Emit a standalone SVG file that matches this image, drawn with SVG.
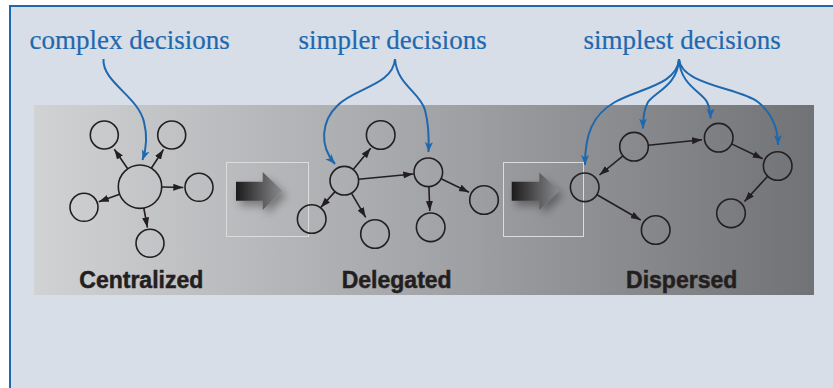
<svg xmlns="http://www.w3.org/2000/svg" width="833" height="388" viewBox="0 0 833 388">
<style>
.node{fill:none;stroke:#231f20;stroke-width:1.6}
.edge{fill:none;stroke:#231f20;stroke-width:1.6;marker-end:url(#ah)}
.blue{fill:none;stroke:#1f68ae;stroke-width:2;marker-end:url(#bh)}
.lbl{font-family:"Liberation Sans",Arial,sans-serif;font-weight:bold;font-size:23px;fill:#231f20;stroke:#231f20;stroke-width:0.5;text-anchor:middle}
.cap{font-family:"Liberation Serif","Times New Roman",serif;font-size:27px;fill:#1f68ae;stroke:#1f68ae;stroke-width:0.2}
.box{fill:none;stroke:#dcdcdc;stroke-width:1}
.bigarrow{fill:url(#ag);filter:url(#sh)}
</style>
<defs>
<linearGradient id="band" x1="0" y1="0" x2="1" y2="0">
<stop offset="0" stop-color="#d1d2d4"/>
<stop offset="0.5" stop-color="#a4a5a8"/>
<stop offset="1" stop-color="#717276"/>
</linearGradient>
<linearGradient id="ag" x1="0" y1="0" x2="1" y2="0">
<stop offset="0" stop-color="#1c1b1c"/>
<stop offset="1" stop-color="#8a8b8e"/>
</linearGradient>
<filter id="sh" x="-30%" y="-30%" width="170%" height="180%">
<feDropShadow dx="4" dy="5" stdDeviation="4" flood-color="#000" flood-opacity="0.35"/>
</filter>
<marker id="ah" markerUnits="userSpaceOnUse" markerWidth="11" markerHeight="8" refX="10" refY="3.5" orient="auto">
<path d="M0,0 L10,3.5 L0,7 z" fill="#231f20"/>
</marker>
<marker id="bh" markerUnits="userSpaceOnUse" markerWidth="11" markerHeight="9" refX="10" refY="4" orient="auto">
<path d="M0,0 L10,4 L0,8 L2.5,4 z" fill="#1f68ae"/>
</marker>
</defs>
<rect x="0" y="0" width="833" height="388" fill="#ffffff"/>
<rect x="10" y="6" width="840" height="400" fill="#d7dee8" stroke="#1d68b0" stroke-width="2"/>
<rect x="34" y="105" width="780" height="190" fill="url(#band)"/>

<g id="transition1">
<rect class="box" x="226.5" y="162.5" width="82" height="74"/>
<path class="bigarrow" d="M236,181.7 L262.7,181.7 L262.7,172 L282.3,190.7 L262.7,210 L262.7,200.7 L236,200.7 z"/>
</g>
<g id="transition2">
<rect class="box" x="503.5" y="162.5" width="80" height="74"/>
<path class="bigarrow" d="M511.7,181.7 L539.3,181.7 L539.3,172.5 L559,190.7 L539.3,210 L539.3,200.7 L511.7,200.7 z"/>
</g>

<g id="centralized">
<circle class="node" cx="140" cy="186.7" r="21.7"/>
<circle class="node" cx="104.3" cy="135" r="14"/>
<circle class="node" cx="171.7" cy="135" r="14"/>
<circle class="node" cx="199" cy="187.3" r="14"/>
<circle class="node" cx="84" cy="207.3" r="14"/>
<circle class="node" cx="150" cy="243.3" r="14"/>
<text class="lbl" x="141.3" y="287.5">Centralized</text>
</g>
<g id="delegated">
<circle class="node" cx="344.3" cy="180.7" r="14.3"/>
<circle class="node" cx="380.7" cy="135" r="14.3"/>
<circle class="node" cx="311.7" cy="219" r="14.3"/>
<circle class="node" cx="375" cy="234" r="14.3"/>
<circle class="node" cx="428.3" cy="172.3" r="14.3"/>
<circle class="node" cx="430.7" cy="227.3" r="14.3"/>
<circle class="node" cx="484" cy="200" r="14.3"/>
<text class="lbl" x="396.7" y="287.5">Delegated</text>
</g>
<g id="dispersed">
<circle class="node" cx="584.7" cy="187.3" r="14.3"/>
<circle class="node" cx="634" cy="146.7" r="14.3"/>
<circle class="node" cx="718.7" cy="137.7" r="14.3"/>
<circle class="node" cx="777.7" cy="166" r="14.3"/>
<circle class="node" cx="731" cy="213.3" r="14.3"/>
<circle class="node" cx="655.7" cy="230" r="14.3"/>
<text class="lbl" x="681.7" y="287.5">Dispersed</text>
</g>

<g id="captions">
<text class="cap" x="29.5" y="48.5">complex decisions</text>
<text class="cap" x="298.5" y="48.5">simpler decisions</text>
<text class="cap" x="583.5" y="48.5">simplest decisions</text>
</g>

<g id="connectors">
<path class="edge" d="M127.7,168.8 L114.3,149.3"/>
<path class="edge" d="M151.3,168.2 L163.5,149.5"/>
<path class="edge" d="M161.7,187 L183.3,187.5"/>
<path class="edge" d="M119.6,194.2 L98.8,201.8"/>
<path class="edge" d="M143.8,208 L147.4,227.5"/>

<path class="edge" d="M353.2,169.5 L370.7,148.3"/>
<path class="edge" d="M335,191.6 L320.7,207.5"/>
<path class="edge" d="M351.4,193.1 L365.7,217.3"/>
<path class="edge" d="M358.5,179.3 L413.3,174"/>
<path class="edge" d="M428.9,186.6 L429.8,211"/>
<path class="edge" d="M441.1,178.7 L469,192.2"/>

<path class="edge" d="M623,155.8 L599.5,175"/>
<path class="edge" d="M597,194.7 L640.7,220"/>
<path class="edge" d="M648.2,145.2 L702,139.7"/>
<path class="edge" d="M731.6,143.9 L762.7,158.7"/>
<path class="edge" d="M767.7,176.2 L744.5,201.5"/>

<path class="blue" d="M103.5,59 C102,82 138,96 144,122 C148,138 146,150 142.5,160"/>
<path class="blue" d="M395,59 C393,85 355,88 338,105 C321,121 319,146 335,164"/>
<path class="blue" d="M395,59 C397,85 420,92 425,110 C429,125 429,140 428.5,152"/>
<path class="blue" d="M679,59 C677,85 640,88 615,102 C592,115 585,135 585,165"/>
<path class="blue" d="M679,59 C678,85 655,92 648,102 C644,109 643,118 643,128.5"/>
<path class="blue" d="M679,59 C680,85 702,92 707,102 C710,108 710.5,113 710.5,118.5"/>
<path class="blue" d="M679,59 C681,85 740,88 758,102 C773,114 778,128 778,145"/>
</g>
</svg>
